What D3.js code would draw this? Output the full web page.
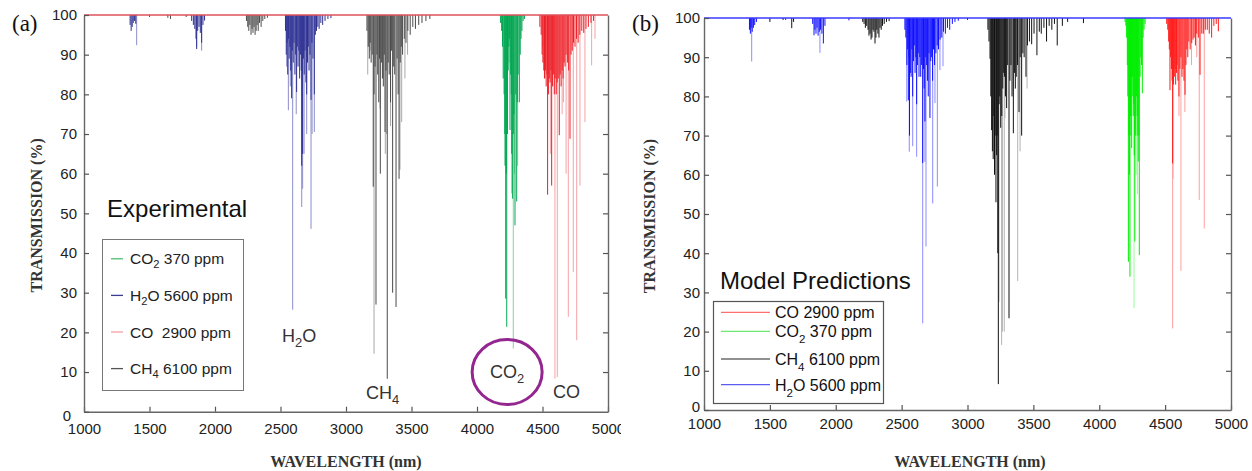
<!DOCTYPE html>
<html>
<head>
<meta charset="utf-8">
<script src="https://cdn.jsdelivr.net/npm/d3@7"></script>
<style>
body { margin: 0; background: #fff; }
</style>
</head>
<body>
<script>
var W = 1252, H = 471;

var xTicks = [1000, 1500, 2000, 2500, 3000, 3500, 4000, 4500, 5000];
var yTicks = [0, 10, 20, 30, 40, 50, 60, 70, 80, 90, 100];

// (a) experimental lines: [wavelength nm, lowest transmission %]
var expH2O = [[1352,97.5],[1360,96],[1368,97],[1376,98],[1385,98.5],[1395,97.8],
  [1822,98.5],[1835,97.5],[1846,96.5],[1855,94],[1860,91.4],[1868,96],[1878,97],[1888,95.5],[1898,93],[1908,97.5],[1920,98.6],
  [2538,96],[2544,90],[2550,93],[2555,85],[2560,94],[2566,89],[2572,92],[2578,86],[2585,79],[2590,91],[2597,88],[2603,93],
  [2610,85],[2616,90],[2623,80.6],[2628,92],[2634,87],[2640,91],[2646,84],[2652,90],[2658,86],[2662,62],[2669,65],[2675,89],
  [2681,85],[2687,91],[2694,83],[2700,80],[2706,88],[2712,92],[2718,86],[2725,90],[2733,78.6],[2740,93],[2748,89],[2758,80],
  [2766,95],[2775,96],[2785,97],[2795,96.5],[2808,98],[2822,97.5],[2840,98.5],[2862,99],[2885,99.2]];
var expH2OFaint = [[1402,92.4],[1860,92],[1898,91],[2547,87],[2560,76],[2575,82],[2593,25.7],[2620,75],[2662,51.6],
  [2669,56.2],[2680,65],[2700,70],[2733,46.1],[2741,70],[2758,70.5]];
var expCH4 = [[1500,99.5],[1640,99.3],[1660,99],[1780,99.5],
  [2240,98.5],[2250,97],[2258,96],[2266,97.5],[2275,95],[2283,96.5],[2290,95.5],[2298,97],[2306,95],[2314,96],[2322,97.5],
  [2330,96],[2340,98],[2352,97],[2365,98.5],[2380,99],[2400,99.3],
  [3160,96],[3170,92],[3178,89],[3185,93],[3192,88],[3200,90],[3208,56.7],[3214,80],[3222,87],[3229,27],[3236,90],[3242,85],
  [3250,78],[3256,89],[3262,60],[3270,88],[3278,84],[3285,82],[3292,90],[3298,70.5],[3305,86],[3315,8.3],[3322,88],[3330,85],
  [3340,78],[3348,91],[3356,30],[3364,87],[3372,85],[3382,26.4],[3390,89],[3398,80],[3405,58.7],[3414,88],[3422,92],[3432,90],
  [3445,94],[3458,93],[3472,96],[3490,95],[3510,97],[3530,96.5],[3555,97.5],[3580,98],[3610,98.5],[3640,99]];
var expCH4Faint = [[3166,85],[3183,91],[3214,14.6],[3260,76.4],[3300,65],[3310,70],[3340,72],[3412,61],[3425,73],[3450,84],[3470,90]];
var expCO2 = [[4180,98],[4188,96],[4195,92],[4200,84],[4207,80],[4212,70],[4214,62],[4219,28.5],[4224,60],[4227,21.4],
  [4233,70],[4238,86],[4243,92],[4247,94],[4252,71],[4257,85],[4262,80],[4265,65],[4272,53.7],[4277,70],[4282,75],[4290,47],
  [4296,80],[4303,53],[4308,78],[4314,85],[4323,78],[4330,90],[4336,94],[4343,96],[4352,98.5],[4362,99]];
var expCO2Faint = [[4245,88],[4265,55],[4277,15.9],[4285,60],[4310,62]];
var expCO = [[4480,97],[4490,95],[4497,90],[4503,88],[4510,86],[4515,84],[4522,86],[4528,82],[4535,85],[4539,54.7],[4545,80],
  [4552,84],[4558,83],[4565,86],[4570,57],[4577,82],[4583,85],[4590,80],[4597,84],[4605,80],[4612,83],[4620,84],[4628,69.7],
  [4635,85],[4642,82],[4650,86],[4657,84],[4665,88],[4672,87],[4680,90],[4690,88],[4700,86],[4710,68.8],[4718,90],[4727,91],
  [4737,93],[4748,92],[4760,94],[4772,93],[4785,95],[4800,96],[4815,95.5],[4832,96.5],[4850,97],[4870,98],[4890,98.5]];
var expCOFaint = [[4500,92],[4519,84],[4560,65],[4595,8.3],[4613,8.7],[4650,75],[4660,78],[4680,60],[4697,23.9],[4735,35.2],
  [4761,18],[4786,57],[4824,73],[4875,87.3],[4901,94]];

// (b) model predictions
var modH2O = [[1345,97],[1352,96],[1358,97.5],[1366,96.5],[1375,97.5],[1385,98.2],[1398,99],[1620,99.5],
  [1825,98.5],[1835,95.6],[1842,97],[1850,96],[1858,97.5],[1866,95.5],[1875,96.5],[1885,97],[1895,96],[1906,93.5],[1918,98],
  [2100,99.4],
  [2525,97],[2532,95],[2540,88],[2546,92],[2551,79],[2556,90],[2560,70],[2566,86],[2572,85],[2578,92],[2584,80],[2590,89],
  [2596,93],[2602,86],[2608,90],[2614,78],[2620,88],[2626,91],[2632,85],[2638,90],[2645,85],[2652,88],[2660,63],[2666,87],
  [2671,82],[2677,73.6],[2683,90],[2690,88],[2696,84],[2702,80],[2708,91],[2715,74.5],[2721,89],[2728,90],[2735,84],[2742,92],
  [2750,88],[2760,91],[2770,93],[2780,92],[2792,94.5],[2805,95],[2818,96.5],[2832,96],[2848,97.5],[2865,97],[2885,98.5],
  [2905,99],[2930,99.3],[3000,99.5]];
var modH2OFaint = [[1362,88.9],[1880,91.1],[2539,78.7],[2558,65.9],[2584,67.3],[2614,64.6],[2660,22.1],[2677,63.3],[2685,41.7],
  [2736,52.7],[2753,78.3],[2771,57],[2791,86.7],[2814,87.7]];
var modCH4 = [[1500,99],[1600,99.5],[1666,97.4],[1680,99],
  [2205,99],[2215,98.5],[2225,97.5],[2235,98],[2245,97],[2252,95.5],[2260,96],[2268,94.5],[2275,95],[2283,97],[2290,96.5],
  [2298,93.5],[2305,95],[2312,97],[2320,96],[2328,95],[2336,97.5],[2345,97],[2355,98],[2368,98.5],[2385,99],[2405,99.2],
  [3155,97],[3163,94],[3171,89.6],[3177,80],[3183,71.4],[3189,66],[3195,64],[3200,75],[3205,60],[3210,70],[3216,53],[3221,65],
  [3225,70],[3230,40],[3234,6.6],[3240,78],[3245,80],[3252,72],[3260,75],[3268,82],[3275,86],[3280,85],[3288,80],[3297,77],
  [3305,88],[3315,23.4],[3322,84],[3330,88],[3338,80],[3348,70.6],[3356,86],[3363,82],[3370,85],[3380,88],[3391,76],[3400,90],
  [3411,70],[3420,91],[3430,90],[3444,85],[3455,93],[3470,94],[3487,93.3],[3505,96],[3527,90.5],[3545,96.5],[3560,96],
  [3580,97.5],[3600,94],[3620,98],[3640,97],[3660,98.5],[3681,93],[3720,98],[3760,99],[3880,98.7]];
var modCH4Faint = [[3239,27.6],[3259,16.6],[3265,20],[3279,20],[3284,74.4],[3381,32.9],[3399,66],[3452,82]];
var modCO2 = [[4196,99],[4202,98],[4208,95],[4213,88],[4217,80],[4221,37.8],[4225,70],[4229,60],[4233,34],[4237,75],[4240,70],
  [4243,85],[4246,66.8],[4250,80],[4253,85],[4258,75],[4262,78],[4266,65],[4270,43],[4274,70],[4278,75],[4283,80],[4288,70],
  [4292,75],[4296,63.4],[4300,70],[4304,39.5],[4310,85],[4315,90],[4321,88],[4327,80.8],[4333,95],[4340,97],[4348,98.5]];
var modCO2Faint = [[4264,26],[4280,60],[4290,55]];
var modCO = [[4512,98.5],[4520,97],[4527,94],[4532,92],[4537,81.6],[4542,90],[4548,87],[4553,84],[4557,62.9],[4563,83],
  [4570,85],[4575,87],[4580,83],[4586,86],[4590,88],[4597,84],[4605,80],[4612,87],[4620,90],[4628,85],[4635,87],[4643,84],
  [4651,80.4],[4658,88],[4665,92],[4672,90],[4680,94],[4690,92],[4702,93.6],[4712,94.5],[4720,95],[4730,93],[4740,96],
  [4752,95],[4765,85.5],[4778,96],[4790,96],[4805,97],[4820,97],[4835,96],[4853,95],[4870,98],[4888,98.5],[4904,96.6]];
var modCOFaint = [[4557,20.8],[4560,59],[4605,75],[4620,35.5],[4650,76],[4700,88],[4740,90],[4759,53.6],[4797,46.3]];

// legend labels: [main, subscript, rest]
var legendA = [["CO", "2", " 370 ppm"], ["H", "2", "O 5600 ppm"], ["CO", "", "  2900 ppm"], ["CH", "4", " 6100 ppm"]];
var legendB = [["CO", "", " 2900 ppm"], ["CO", "2", " 370 ppm"], ["CH", "4", " 6100 ppm"], ["H", "2", "O 5600 ppm"]];

var sans = "Liberation Sans, Arial, sans-serif";
var serif = "Liberation Serif, Times New Roman, serif";

var svg = d3.select("body").append("svg")
  .attr("width", W)
  .attr("height", H)
  .attr("font-family", sans);

svg.append("defs").append("clipPath").attr("id", "clipA")
  .append("rect").attr("x", 0).attr("y", 0).attr("width", 621).attr("height", H);

function chem(sel, parts, sub) {
  sel.append("tspan").text(parts[0]);
  if (parts[1]) {
    sel.append("tspan").attr("dy", sub).attr("font-size", "0.72em").text(parts[1]);
    sel.append("tspan").attr("dy", -sub).text(parts[2]);
  } else {
    sel.append("tspan").text(parts[2]);
  }
}

function drawPanel(p) {
  var g = svg.append("g");
  if (p.clip) g.attr("clip-path", "url(#" + p.clip + ")");
  var x = d3.scaleLinear().domain([1000, 5000]).range([p.left, p.right]);
  var y = d3.scaleLinear().domain([0, 100]).range([p.bottom, p.top]);

  p.series.forEach(function(s) {
    [[s.faint, s.faintColor], [s.strong, s.color]].forEach(function(set) {
      g.append("g").selectAll("line")
        .data(set[0])
        .enter()
        .append("line")
        .attr("x1", function(d) { return x(d[0]); })
        .attr("x2", function(d) { return x(d[0]); })
        .attr("y1", y(100))
        .attr("y2", function(d) { return y(d[1]); })
        .attr("stroke", set[1])
        .attr("stroke-width", 1);
    });
  });

  g.append("line")
    .attr("x1", x(1000)).attr("x2", x(5000))
    .attr("y1", y(100)).attr("y2", y(100))
    .attr("stroke", p.topColor).attr("stroke-width", 1.3);

  var ax = g.append("g").attr("transform", "translate(0," + p.bottom + ")")
    .call(d3.axisBottom(x).tickValues(xTicks).tickFormat(d3.format("d"))
      .tickSizeInner(-5).tickSizeOuter(0).tickPadding(p.xPad));
  var ay = g.append("g").attr("transform", "translate(" + p.left + ",0)")
    .call(d3.axisLeft(y).tickValues(yTicks).tickSizeInner(-5).tickSizeOuter(0).tickPadding(p.yPad));
  var ar = g.append("g").attr("transform", "translate(" + p.right + ",0)")
    .call(d3.axisRight(y).tickValues(yTicks.slice(1, 10)).tickSizeInner(-5).tickSizeOuter(0).tickFormat(""));
  [ax, ay, ar].forEach(function(a) {
    a.select(".domain").attr("stroke", "#666").attr("stroke-width", 1.4);
    a.selectAll(".tick line").attr("stroke", "#555").attr("stroke-width", 1.2);
    a.selectAll(".tick text")
      .attr("font-family", sans)
      .attr("font-size", "15px")
      .attr("fill", "#222");
  });
  // zero label sits a little off the others
  ay.selectAll(".tick text").filter(function(d) { return d === 0; })
    .attr("dx", p.zeroDx).attr("dy", p.zeroDy);

  g.append("text")
    .attr("x", p.left - 72).attr("y", 31)
    .attr("font-family", serif)
    .attr("font-size", "23px")
    .attr("fill", "#111")
    .text(p.tag);

  g.append("text")
    .attr("transform", "translate(" + p.yLabelX + "," + ((p.top + p.bottom) / 2 + 2) + ") rotate(-90)")
    .attr("text-anchor", "middle")
    .attr("font-family", serif)
    .attr("font-weight", "bold")
    .attr("font-size", "16px")
    .attr("fill", "#333")
    .attr("xml:space", "preserve")
    .text("TRANSMISSION (%)");

  g.append("text")
    .attr("x", p.xLabelX).attr("y", 467)
    .attr("text-anchor", "middle")
    .attr("font-family", serif)
    .attr("font-weight", "bold")
    .attr("font-size", "16px")
    .attr("fill", "#333")
    .text("WAVELENGTH (nm)");

  return { g: g, x: x, y: y };
}

// panel (a)
var a = drawPanel({
  left: 84, right: 608, top: 15, bottom: 411.7, clip: "clipA",
  xPad: 12, yPad: 7, tag: "(a)", yLabelX: 42, xLabelX: 346, topColor: "#e0505a",
  zeroDx: -6, zeroDy: "0.6em",
  series: [
    { strong: expH2O, faint: expH2OFaint, color: "#2e3192", faintColor: "#8c8ecb" },
    { strong: expCH4, faint: expCH4Faint, color: "#4a4a4a", faintColor: "#a8a8a8" },
    { strong: expCO2, faint: expCO2Faint, color: "#00a651", faintColor: "#86d0a4" },
    { strong: expCO, faint: expCOFaint, color: "#ed1c24", faintColor: "#f5a3a6" }
  ]
});

a.g.append("text")
  .attr("x", a.x(1176)).attr("y", 217)
  .attr("font-size", "24px").attr("fill", "#111")
  .text("Experimental");

var legA = a.g.append("g");
legA.append("rect")
  .attr("x", 102.5).attr("y", 239.5).attr("width", 141).attr("height", 151)
  .attr("fill", "#fff").attr("stroke", "#777").attr("stroke-width", 1);
var legAColors = ["#4cbf72", "#3a3d90", "#f4a0a4", "#555"];
legendA.forEach(function(d, i) {
  var yy = 264.3 + i * 36.6;
  legA.append("line")
    .attr("x1", 111).attr("x2", 123).attr("y1", yy - 5.5).attr("y2", yy - 5.5)
    .attr("stroke", legAColors[i]).attr("stroke-width", 1.3);
  var t = legA.append("text")
    .attr("x", 130).attr("y", yy)
    .attr("font-size", "15.5px").attr("fill", "#222")
    .attr("xml:space", "preserve");
  chem(t, d, 4);
});

var labA = [
  [["H", "2", "O"], 2511, 17.6],
  [["CH", "4", ""], 3153, 3.2],
  [["CO", "2", ""], 4099, 8.6],
  [["CO", "", ""], 4580, 3.5]
];
labA.forEach(function(d) {
  var t = a.g.append("text")
    .attr("x", a.x(d[1])).attr("y", a.y(d[2]))
    .attr("font-size", "18px").attr("fill", "#333");
  chem(t, d[0], 5);
});

a.g.append("ellipse")
  .attr("cx", a.x(4230)).attr("cy", a.y(10))
  .attr("rx", 35).attr("ry", 32.5)
  .attr("fill", "none").attr("stroke", "#93278f").attr("stroke-width", 3);

// panel (b)
var b = drawPanel({
  left: 704, right: 1231, top: 18, bottom: 410,
  xPad: 8, yPad: 4, tag: "(b)", yLabelX: 655, xLabelX: 970, topColor: "#3a3aff",
  zeroDx: 0, zeroDy: "0.1em",
  series: [
    { strong: modCH4, faint: modCH4Faint, color: "#111", faintColor: "#b4b4b4" },
    { strong: modCO2, faint: modCO2Faint, color: "#00ee00", faintColor: "#9cf79c" },
    { strong: modCO, faint: modCOFaint, color: "#ff1a1a", faintColor: "#ff9e9e" },
    { strong: modH2O, faint: modH2OFaint, color: "#1010ff", faintColor: "#8c8cff" }
  ]
});

b.g.append("text")
  .attr("x", 720).attr("y", 289.3)
  .attr("font-size", "24px").attr("fill", "#111")
  .text("Model Predictions");

var legB = b.g.append("g");
legB.append("rect")
  .attr("x", 713.5).attr("y", 301.5).attr("width", 170).attr("height", 102)
  .attr("fill", "#fff").attr("stroke", "#555").attr("stroke-width", 1.2);
var legBColors = ["#ff6e6e", "#6ee86e", "#222", "#5c5cf0"];
var legBY = [318.3, 337.3, 365, 390.7];
legendB.forEach(function(d, i) {
  legB.append("line")
    .attr("x1", 721).attr("x2", 770).attr("y1", legBY[i] - 6).attr("y2", legBY[i] - 6)
    .attr("stroke", legBColors[i]).attr("stroke-width", 1.2);
  var t = legB.append("text")
    .attr("x", 775).attr("y", legBY[i])
    .attr("font-size", "16px").attr("fill", "#111")
    .attr("xml:space", "preserve");
  chem(t, d, 6);
});
</script>
</body>
</html>
